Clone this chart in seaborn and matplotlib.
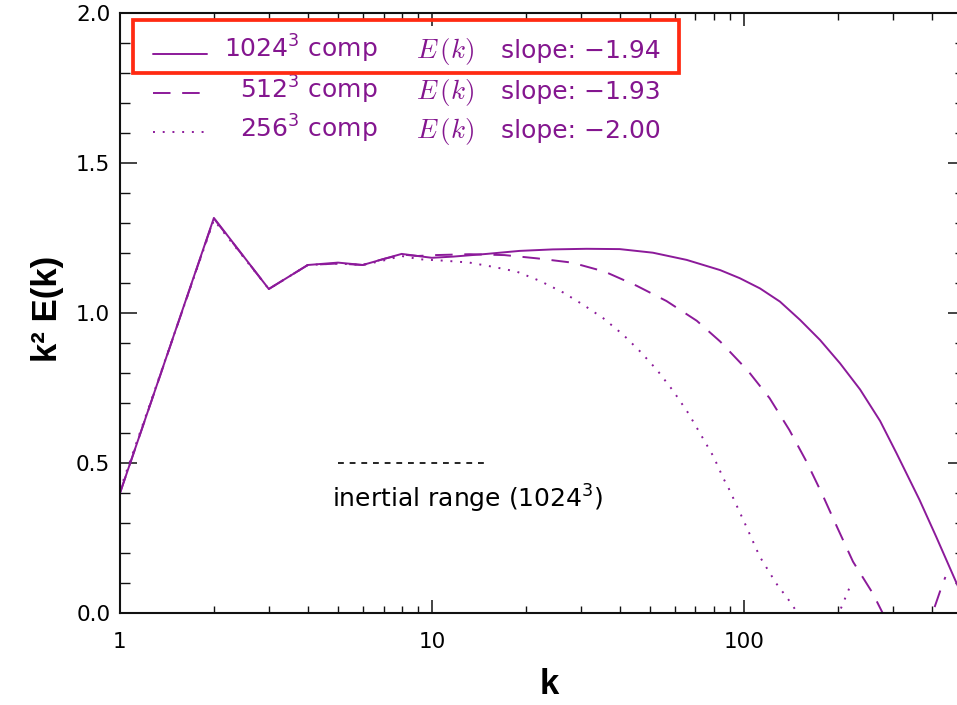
import matplotlib
matplotlib.use("Agg")
import matplotlib.pyplot as plt
from matplotlib.lines import Line2D
from matplotlib.patches import Rectangle
from matplotlib.ticker import FixedLocator, MultipleLocator, LogLocator, NullFormatter
import seaborn as sns

# ---------------- data ----------------
k_1024 = [1, 2, 3, 4, 5, 6, 7, 8, 9, 10, 11.7, 15.0, 19.1, 24.4, 31.3, 40.0, 51.1, 65.6,
          84, 97.1, 112.7, 130.6, 151.5, 175.6, 203.6, 236, 273.6, 309, 366, 414, 479, 512]
e_1024 = [0.40, 1.317, 1.08, 1.16, 1.168, 1.16, 1.18, 1.197, 1.19, 1.184, 1.188, 1.197,
          1.207, 1.212, 1.214, 1.213, 1.201, 1.177, 1.143, 1.116, 1.082, 1.038, 0.977,
          0.91, 0.832, 0.745, 0.64, 0.532, 0.377, 0.254, 0.104, 0.036]

k_512 = [1, 2, 3, 4, 5, 6, 7, 8, 9, 10.2, 13.2, 17.1, 21.8, 28.1, 35.8, 45.3, 56.5, 70.7,
         84, 103, 121, 140, 159, 179, 200, 224, 259, 285, 320, 360, 403, 431, 443]
e_512 = [0.40, 1.315, 1.08, 1.16, 1.165, 1.16, 1.18, 1.195, 1.19, 1.193, 1.196, 1.193,
         1.182, 1.168, 1.138, 1.091, 1.04, 0.974, 0.905, 0.808, 0.716, 0.61, 0.504, 0.393,
         0.282, 0.171, 0.066, -0.02, -0.07, -0.06, 0.0, 0.088, 0.12]

k_256 = [1, 2, 3, 4, 5, 6, 7, 8, 9.16, 11.1, 13.2, 15.7, 18.7, 22.2, 26.4, 30.6, 35.5,
         41.1, 46.6, 52.7, 59.4, 66.4, 72.4, 80, 86, 90, 101.9, 112.5, 127, 142, 155,
         175, 192, 202, 220]
e_256 = [0.41, 1.31, 1.08, 1.16, 1.165, 1.16, 1.175, 1.19, 1.179, 1.174, 1.168, 1.154,
         1.138, 1.107, 1.068, 1.027, 0.982, 0.927, 0.871, 0.81, 0.74, 0.666, 0.599,
         0.521, 0.449, 0.41, 0.288, 0.188, 0.099, 0.032, -0.03, -0.06, -0.03, 0.0, 0.093]

inertial_k = [5, 15]
inertial_y = [0.5, 0.5]

res_labels = ["1024", "512", "256"]
slopes = ["\u22121.94", "\u22121.93", "\u22122.00"]

x_ticks = [1, 10, 100]
x_ticklabels = ["1", "10", "100"]
y_ticks = [0.0, 0.5, 1.0, 1.5, 2.0]
y_ticklabels = ["0.0", "0.5", "1.0", "1.5", "2.0"]

# ---------------- style ----------------
sns.set_theme(style="ticks")
plt.rcParams["font.family"] = ["DejaVu Sans"]

LINE_C = "#8c1a9a"
TEXT_C = "#84168f"
lw = 1.4
styles = ["-", (0, (9, 6)), (0, (1, 4))]

fig = plt.figure(figsize=(9.57, 7.05), dpi=100)
ax = fig.add_axes([120 / 957, 92 / 705, 845 / 957, 600 / 705])

series = [(k_1024, e_1024), (k_512, e_512), (k_256, e_256)]
for (kk, ee), ls in zip(series, styles):
    sns.lineplot(x=kk, y=ee, ax=ax, color=LINE_C, linestyle=ls, linewidth=lw,
                 estimator=None, sort=False, legend=False)

sns.lineplot(x=inertial_k, y=inertial_y, ax=ax, color="black", linestyle=(0, (3.5, 3.5)),
             linewidth=1.2, estimator=None, sort=False, legend=False)

ax.set_xscale("log")
ax.set_xlim(1, 512)
ax.set_ylim(0, 2.0)

ax.xaxis.set_major_locator(FixedLocator(x_ticks))
ax.set_xticklabels(x_ticklabels)
ax.xaxis.set_minor_locator(LogLocator(base=10, subs=range(2, 10)))
ax.xaxis.set_minor_formatter(NullFormatter())
ax.yaxis.set_major_locator(FixedLocator(y_ticks))
ax.set_yticklabels(y_ticklabels)
ax.yaxis.set_minor_locator(MultipleLocator(0.1))

ax.tick_params(axis="both", which="both", direction="in", top=True, right=True,
               colors="#111111", labelcolor="black", labelsize=15.5)
ax.tick_params(axis="x", which="major", length=9.5, width=1.1, pad=14)
ax.tick_params(axis="x", which="minor", length=5, width=1.0)
ax.tick_params(axis="y", which="major", length=12, width=1.1, pad=7)
ax.tick_params(axis="y", which="minor", length=7, width=1.0)
for sp in ax.spines.values():
    sp.set_linewidth(1.5)
    sp.set_color("#111111")

lab_font = dict(family="Liberation Sans", weight="bold", size=25, color="black")
ax.set_xlabel("k", fontdict=lab_font)
ax.set_ylabel("k\u00b2 E(k)", fontdict=lab_font)
ax.xaxis.set_label_coords((549 - 120) / 845, (613 - 668) / 600)
ax.yaxis.set_label_coords((64 - 120) / 845, (613 - 309) / 600)

# ---------------- legend (drawn by hand, IDL-like) ----------------
def fx(px):
    return (px - 120) / 845

def fy(py):
    return (613 - py) / 600

line_rows = [53.7, 93, 131.5]
base_rows = [58, 98.5, 138]
for i in range(3):
    ax.add_line(Line2D([fx(153), fx(207)], [fy(line_rows[i])] * 2, transform=ax.transAxes,
                       color=LINE_C, linestyle=styles[i], linewidth=lw, clip_on=False))
    ax.text(fx(378), fy(base_rows[i]), f"{res_labels[i]}$^3$ comp", transform=ax.transAxes,
            ha="right", va="baseline", color=TEXT_C, fontsize=18,
            math_fontfamily="dejavusans")
    ax.text(fx(416), fy(base_rows[i]), r"$E\,(k)$", transform=ax.transAxes,
            ha="left", va="baseline", color=TEXT_C, fontsize=19.5, math_fontfamily="cm")
    ax.text(fx(501), fy(base_rows[i]), f"slope: {slopes[i]}", transform=ax.transAxes,
            ha="left", va="baseline", color=TEXT_C, fontsize=18)

ax.add_patch(Rectangle((fx(133), fy(73)), fx(679) - fx(133), fy(20.4) - fy(73),
                       transform=ax.transAxes, fill=False, edgecolor="#ff2a12",
                       linewidth=2.7, clip_on=False, zorder=5))

ax.text(fx(332), fy(508), "inertial range (1024$^3$)", transform=ax.transAxes,
        ha="left", va="baseline", color="black", fontsize=18,
        math_fontfamily="dejavusans")

fig.savefig("out.png", dpi=100)
